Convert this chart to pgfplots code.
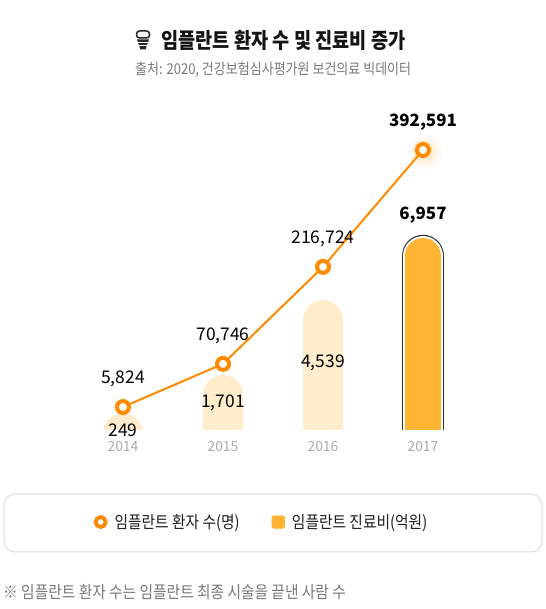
\documentclass[border=0pt]{standalone}
\usepackage{pgfplots}
\pgfplotsset{compat=1.18}
\usepackage{pgfplotstable}
\usepackage{fontspec}
\setmainfont{Noto Sans CJK KR}
\newfontfamily\kr{Noto Sans CJK KR}[FakeStretch=0.87]
\definecolor{lineor}{HTML}{FF8A00}
\definecolor{barpale}{HTML}{FFECCB}
\definecolor{barmain}{HTML}{FFB533}
\definecolor{ticklab}{HTML}{ABABAB}
\definecolor{subgray}{HTML}{7A7A7A}
\definecolor{boxgray}{HTML}{DDDDDD}
\definecolor{outl}{HTML}{333333}

\pgfplotstableread{
x y
0 249
1 1701
2 4539
}\palebars
\pgfplotstableread{
x y
3 6957
}\mainbar
\pgfplotstableread{
x y dy
0 249 -6.6
1 1701 -18
2 4539 -53
}\palelabels
\pgfplotstableread{
x y
0 5824
1 70746
2 216724
3 392591
}\patients
\pgfplotstableread{
x y
0 5824
1 70746
2 216724
}\patlabels
\pgfplotstableread{
x y
3 392591
}\patlast

\begin{document}
\begin{tikzpicture}
\useasboundingbox (0,0) rectangle (546bp,609bp);
\fill[white] (0,0) rectangle (546bp,609bp);
\begin{scope}[x=1bp,y=-1bp,shift={(0,609bp)}]
 % icon
 \draw[black!85, line width=1.5bp, rounded corners=3bp] (136.5,31) rectangle (149.5,38);
 \fill[black!85] (137,39.5) -- (149,39.5) -- (145.5,49.5) -- (140.5,49.5) -- cycle;
 \draw[white, line width=1bp] (137,42.5) -- (149,42.5);
 \draw[white, line width=1bp] (137,45.8) -- (149,45.8);
 % title
 \node[font=\kr\fontsize{21.5}{24}\selectfont\bfseries, text=black!92, anchor=west, inner sep=0] at (161,40) {임플란트 환자 수 및 진료비 증가};
 \node[font=\kr\fontsize{15}{18}\selectfont, text=subgray, anchor=west, inner sep=0] at (135,70) {출처: 2020, 건강보험심사평가원 보건의료 빅데이터};
 % legend box
 \draw[draw=boxgray, line width=1bp, rounded corners=11bp] (4,494) rectangle (542,552);
 % footnote
 \node[font=\kr\fontsize{17}{20}\selectfont, text=subgray, anchor=west, inner sep=0] at (3,592) {※ 임플란트 환자 수는 임플란트 최종 시술을 끝낸 사람 수};
\end{scope}

\begin{axis}[at={(23bp,179bp)}, anchor=south west, scale only axis,
  width=500bp, height=340bp,
  xmin=-1, xmax=4, ymin=0, ymax=12859,
  axis lines*=left, axis line style={draw=none}, major tick length=0pt,
  xtick={0,1,2,3}, xticklabels={2014,2015,2016,2017}, ytick=\empty,
  xticklabel style={anchor=center, yshift=-17bp, text=ticklab, font=\fontsize{14}{16}\selectfont},
  /pgf/number format/fixed, /pgf/number format/precision=0,
  /pgf/number format/assume math mode=true,
  /pgf/number format/1000 sep={,}]
 \addplot[ycomb, draw=barpale, line width=40bp, line cap=round, yshift=-10bp] table {\palebars};
 \addplot[ycomb, draw=outl, line width=42.5bp, line cap=round, yshift=-10bp] table {\mainbar};
 \addplot[ycomb, draw=white, line width=40bp, line cap=round, yshift=-10bp] table {\mainbar};
 \addplot[ycomb, draw=barmain, line width=36bp, line cap=round, yshift=-10bp] table {\mainbar};
 \addplot[draw=none, nodes near coords, point meta=y,
   visualization depends on={\thisrow{dy}\as\dy},
   nodes near coords style={anchor=center, yshift=\dy bp, text=black, font=\fontsize{17.5}{20}\selectfont}] table {\palelabels};
 \addplot[draw=none, nodes near coords, point meta=y,
   nodes near coords style={anchor=center, yshift=31bp, text=black, font=\fontsize{17}{20}\selectfont\bfseries}] table {\mainbar};
\end{axis}

\begin{axis}[at={(23bp,179bp)}, anchor=south west, scale only axis,
  width=500bp, height=340bp,
  xmin=-1, xmax=4, ymin=-28789, ymax=482882,
  hide axis, clip=false,
  /pgf/number format/fixed, /pgf/number format/precision=0,
  /pgf/number format/assume math mode=true,
  /pgf/number format/1000 sep={,},
  legend style={at={(0.477,-0.2706)}, anchor=center, draw=none, fill=none,
    legend columns=2, font=\kr\fontsize{17}{20}\selectfont, text=black!88,
    /tikz/every odd column/.append style={column sep=5bp},
    /tikz/every even column/.append style={column sep=30bp}},
  legend cell align=left]
 \addplot[forget plot, only marks, color=lineor, mark=*, mark size=17bp, mark options={draw opacity=0, fill=lineor, fill opacity=0.04, xshift=2bp, yshift=-2bp}] table {\patlast};
 \addplot[forget plot, only marks, color=lineor, mark=*, mark size=13bp, mark options={draw opacity=0, fill=lineor, fill opacity=0.06, xshift=2bp, yshift=-2bp}] table {\patlast};
 \addplot[forget plot, only marks, color=lineor, mark=*, mark size=10bp, mark options={draw opacity=0, fill=lineor, fill opacity=0.08, xshift=1bp, yshift=-1bp}] table {\patlast};
 \addplot[forget plot, lineor, line width=2bp, mark=*, mark size=6bp,
   mark options={draw=lineor, fill=white, line width=4bp}] table {\patients};
 \addplot[forget plot, draw=none, nodes near coords, point meta=y,
   nodes near coords style={anchor=center, yshift=28bp, text=black, font=\fontsize{17.5}{20}\selectfont}] table {\patlabels};
 \addplot[forget plot, draw=none, nodes near coords, point meta=y,
   nodes near coords style={anchor=center, yshift=28bp, text=black, font=\fontsize{17}{20}\selectfont\bfseries}] table {\patlast};
 \addlegendimage{legend image code/.code={\draw[lineor, line width=3.8bp, fill=white] (0bp,0bp) circle (5bp);}}
 \addlegendentry{임플란트 환자 수(명)}
 \addlegendimage{legend image code/.code={\fill[barmain, rounded corners=2.5bp] (-6.5bp,-6.5bp) rectangle (6.5bp,6.5bp);}}
 \addlegendentry{임플란트 진료비(억원)}
\end{axis}
\end{tikzpicture}
\end{document}
